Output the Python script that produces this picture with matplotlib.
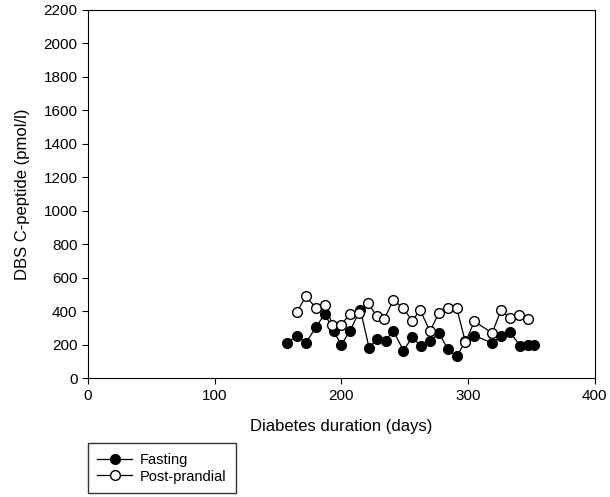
import matplotlib
matplotlib.use("Agg")
import matplotlib.pyplot as plt

plt.rcParams['font.family'] = ['Liberation Sans', 'DejaVu Sans']

fast_x = [157, 165, 172, 180, 187, 194, 200, 207, 215, 222, 228, 235, 241, 249,
          256, 263, 270, 277, 284, 291, 298, 305, 319, 326, 333, 341, 347, 352]
fast_y = [210, 255, 210, 305, 385, 280, 200, 285, 410, 180, 235, 225, 285, 165,
          245, 190, 220, 270, 175, 130, 220, 255, 210, 250, 275, 195, 200, 200]

post_x = [165, 172, 180, 187, 193, 200, 207, 214, 221, 228, 234, 241, 249, 256,
          262, 270, 277, 284, 291, 298, 305, 319, 326, 333, 340, 347]
post_y = [395, 490, 420, 440, 320, 320, 385, 390, 450, 370, 355, 465, 420, 340,
          410, 280, 390, 420, 420, 215, 340, 270, 405, 360, 375, 355]

fig = plt.figure(figsize=(6.1, 4.97), dpi=100)
ax = fig.add_axes([0.144, 0.239, 0.831, 0.741])

ax.plot(fast_x, fast_y, 'o-', color='black', markerfacecolor='black',
        markeredgecolor='black', markersize=7, linewidth=0.9, label='Fasting')
ax.plot(post_x, post_y, 'o-', color='black', markerfacecolor='white',
        markeredgecolor='black', markersize=7, linewidth=0.9, label='Post-prandial')

ax.set_xlim(0, 400)
ax.set_ylim(0, 2200)
ax.set_xticks([0, 100, 200, 300, 400])
ax.set_yticks(range(0, 2201, 200))
ax.tick_params(direction='out', labelsize=11, length=4)
ax.set_xlabel('Diabetes duration (days)', fontsize=12, labelpad=12)
ax.set_ylabel('DBS C-peptide (pmol/l)', fontsize=12, labelpad=10)

fig.legend(loc='lower left', bbox_to_anchor=(0.144, 0.008), borderaxespad=0,
           fontsize=10.5, frameon=True, fancybox=False, edgecolor='black',
           handlelength=2.4, borderpad=0.65, labelspacing=0.2, handletextpad=0.5)

plt.savefig('out.png', dpi=100)
